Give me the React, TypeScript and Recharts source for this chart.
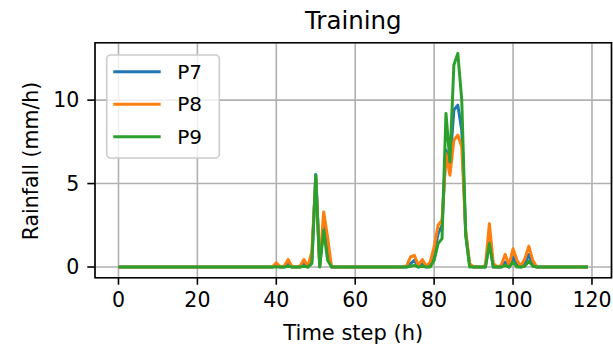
import React from 'react'
import { LineChart, Line, XAxis, YAxis, CartesianGrid, ReferenceArea } from 'recharts'

// hourly rainfall, time steps 0..119
const P7 = [
  0, 0, 0, 0, 0, 0, 0, 0, 0, 0, 0, 0, 0, 0, 0, 0, 0, 0, 0, 0,
  0, 0, 0, 0, 0, 0, 0, 0, 0, 0, 0, 0, 0, 0, 0, 0, 0, 0, 0, 0,
  0.1, 0, 0, 0.2, 0, 0, 0, 0.2, 0, 0.3, 5.55, 0.05, 2.6, 1.0, 0, 0, 0, 0, 0, 0,
  0, 0, 0, 0, 0, 0, 0, 0, 0, 0, 0, 0, 0, 0, 0.2, 0.4, 0, 0.2, 0, 0.1,
  0.8, 2.0, 2.5, 7.0, 6.2, 9.4, 9.7, 8.2, 2.0, 0.1, 0, 0, 0, 0, 1.5, 0, 0, 0, 0.3, 0,
  0.6, 0.1, 0, 0.2, 0.75, 0.1, 0, 0, 0, 0, 0, 0, 0, 0, 0, 0, 0, 0, 0, 0,
]
const P8 = [
  0, 0, 0, 0, 0, 0, 0, 0, 0, 0, 0, 0, 0, 0, 0, 0, 0, 0, 0, 0,
  0, 0, 0, 0, 0, 0, 0, 0, 0, 0, 0, 0, 0, 0, 0, 0, 0, 0, 0, 0,
  0.25, 0, 0.05, 0.45, 0, 0, 0.05, 0.45, 0.05, 0.9, 5.3, 0.1, 3.3, 1.8, 0, 0, 0, 0, 0, 0,
  0, 0, 0, 0, 0, 0, 0, 0, 0, 0, 0, 0, 0, 0.05, 0.6, 0.7, 0.1, 0.45, 0.05, 0.3,
  1.2, 2.5, 2.8, 6.8, 5.5, 7.6, 7.9, 7.2, 2.2, 0.2, 0, 0, 0, 0.1, 2.6, 0.2, 0, 0.1, 0.75, 0.1,
  1.1, 0.4, 0.05, 0.5, 1.25, 0.4, 0, 0, 0, 0, 0, 0, 0, 0, 0, 0, 0, 0, 0, 0,
]
const P9 = [
  0, 0, 0, 0, 0, 0, 0, 0, 0, 0, 0, 0, 0, 0, 0, 0, 0, 0, 0, 0,
  0, 0, 0, 0, 0, 0, 0, 0, 0, 0, 0, 0, 0, 0, 0, 0, 0, 0, 0, 0,
  0, 0, 0, 0.05, 0, 0, 0, 0.05, 0, 0.2, 5.5, 0, 2.2, 0.4, 0, 0, 0, 0, 0, 0,
  0, 0, 0, 0, 0, 0, 0, 0, 0, 0, 0, 0, 0, 0, 0.05, 0.1, 0, 0.05, 0, 0,
  0.4, 1.4, 1.7, 9.2, 6.3, 12.1, 12.8, 10.0, 1.9, 0, 0, 0, 0, 0, 1.4, 0, 0, 0, 0.1, 0,
  0.3, 0, 0, 0.05, 0.35, 0.05, 0, 0, 0, 0, 0, 0, 0, 0, 0, 0, 0, 0, 0, 0,
]

const xTicks = [0, 20, 40, 60, 80, 100, 120]
const yTicks = [0, 5, 10]
const series = [
  { key: 'P7', color: '#1f77b4' },
  { key: 'P8', color: '#ff7f0e' },
  { key: 'P9', color: '#2ca02c' },
]

const data = P7.map((v, i) => ({ t: i, P7: v, P8: P8[i], P9: P9[i] }))

const font = 'DejaVu Sans'
const tickStyle = { fill: '#000', fontSize: 20.5, fontFamily: font }

export default function App() {
  return (
    <div style={{ position: 'absolute', left: 0, top: 0, width: 613, height: 347, background: '#fff' }}>
      <LineChart width={613} height={347} data={data} margin={{ top: 42.7, right: 1.5, bottom: 0, left: 0 }}>
        <CartesianGrid stroke="#b0b0b0" strokeWidth={1.6} />
        <XAxis
          dataKey="t"
          type="number"
          domain={[-5.95, 124.95]}
          ticks={xTicks}
          allowDataOverflow
          height={69.3}
          axisLine={false}
          tickSize={7}
          tickMargin={8}
          tickLine={{ stroke: '#000', strokeWidth: 1.6 }}
          tick={tickStyle}
        />
        <YAxis
          type="number"
          domain={[-0.64, 13.44]}
          ticks={yTicks}
          allowDataOverflow
          width={95}
          axisLine={false}
          tickSize={7.7}
          tickMargin={8}
          tickLine={{ stroke: '#000', strokeWidth: 1.6 }}
          tick={tickStyle}
        />
        <ReferenceArea x1={-5.95} x2={124.95} y1={-0.64} y2={13.44} fill="none" stroke="#000" strokeWidth={1.6} />
        {series.map((s) => (
          <Line
            key={s.key}
            type="linear"
            dataKey={s.key}
            stroke={s.color}
            strokeWidth={3}
            strokeLinejoin="round"
            dot={false}
            isAnimationActive={false}
          />
        ))}
      </LineChart>
      <svg width={613} height={347} style={{ position: 'absolute', left: 0, top: 0, pointerEvents: 'none' }}>
        <text x={353.3} y={29.3} textAnchor="middle" fontSize={24.5} fontFamily={font} fill="#000">
          Training
        </text>
        <text x={353.3} y={339.5} textAnchor="middle" fontSize={21} fontFamily={font} fill="#000">
          Time step (h)
        </text>
        <text
          transform="translate(38.3,161) rotate(-90)"
          textAnchor="middle"
          fontSize={20.5}
          fontFamily={font}
          fill="#000"
        >
          Rainfall (mm/h)
        </text>
        <rect x={106.7} y={55} width={112.6} height={103} rx={4} fill="#fff" fillOpacity={0.8} stroke="#cccccc" strokeWidth={1.6} />
        {series.map((s, i) => {
          const y = 71.7 + i * 32.5
          return (
            <g key={s.key}>
              <line x1={113.3} x2={160.7} y1={y} y2={y} stroke={s.color} strokeWidth={3} />
              <text x={177.3} y={y + 7.2} fontSize={20} fontFamily={font} fill="#000">
                {s.key}
              </text>
            </g>
          )
        })}
      </svg>
    </div>
  )
}
